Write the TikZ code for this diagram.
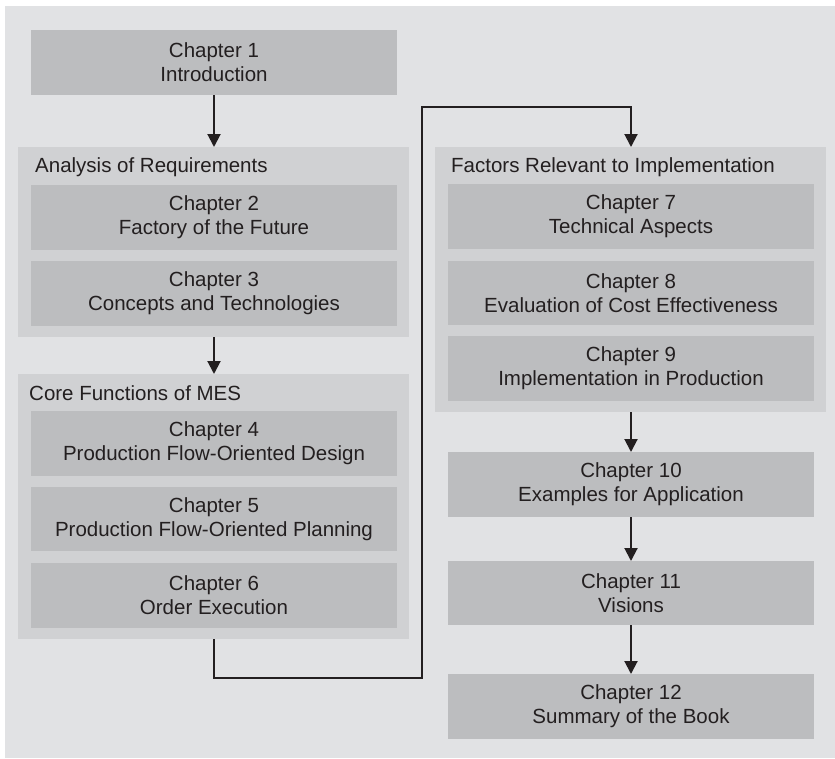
\documentclass[tikz,border=0pt]{standalone}
\usepackage{fontspec}
\setmainfont{Liberation Sans}
\usetikzlibrary{arrows.meta}
\definecolor{pagebg}{HTML}{E1E2E4}
\definecolor{groupbg}{HTML}{D0D1D3}
\definecolor{boxbg}{HTML}{BCBDBF}
\definecolor{ink}{HTML}{231F20}
\begin{document}
\begin{tikzpicture}[x=1pt,y=-1pt,
  every node/.style={font=\fontsize{20.5}{24}\selectfont, text=ink},
  grp/.style={fill=groupbg},
  grptitle/.style={anchor=base west, inner sep=0pt},
  flow/.style={draw=ink, line width=2pt, -{Triangle[width=13pt,length=13pt]}}]
\useasboundingbox (0,0) rectangle (835,758);
\fill[pagebg] (5,6) rectangle (835,758);

% group panels
\fill[grp] (18,147) rectangle (409,337);
\fill[grp] (18,374) rectangle (409,639);
\fill[grp] (435,147) rectangle (826,412);
\coordinate (g1t) at (214,147);
\coordinate (g1b) at (214,337);
\coordinate (g2t) at (214,374);
\coordinate (g2b) at (214,639);
\coordinate (g3t) at (631,147);
\coordinate (g3b) at (631,412);
\node[grptitle] (t1) at (35,172) {Analysis of Requirements};
\node[grptitle] (t2) at (29,400) {Core Functions of MES};
\node[grptitle] (t3) at (451,172) {Factors Relevant to Implementation};

% chapter boxes: name, left, top, right, bottom, text
\newcommand\chap[6]{%
  \fill[boxbg] (#2,#3) rectangle (#4,#5);
  \node[align=center, inner sep=0pt] (#1) at ({(#2+#4)/2},{(#3+#5)/2}) {#6};
  \coordinate (#1t) at ({(#2+#4)/2},#3);
  \coordinate (#1b) at ({(#2+#4)/2},#5);}
% left column
\chap{c1}{31}{30}{397}{95}{Chapter 1\\Introduction}
\chap{c2}{31}{185}{397}{250}{Chapter 2\\Factory of the Future}
\chap{c3}{31}{261}{397}{326}{Chapter 3\\Concepts and Technologies}
\chap{c4}{31}{411}{397}{476}{Chapter 4\\Production Flow-Oriented Design}
\chap{c5}{31}{487}{397}{551}{Chapter 5\\Production Flow-Oriented Planning}
\chap{c6}{31}{563}{397}{628}{Chapter 6\\Order Execution}
% right column
\chap{c7}{448}{184}{814}{249}{Chapter 7\\Technical Aspects}
\chap{c8}{448}{261}{814}{325}{Chapter 8\\Evaluation of Cost Effectiveness}
\chap{c9}{448}{336}{814}{401}{Chapter 9\\Implementation in Production}
\chap{c10}{448}{452}{814}{517}{Chapter 10\\Examples for Application}
\chap{c11}{448}{561}{814}{625}{Chapter 11\\Visions}
\chap{c12}{448}{674}{814}{739}{Chapter 12\\Summary of the Book}

% connectors
\draw[flow] (c1b) -- (g1t);
\draw[flow] (g1b) -- (g2t);
\draw[flow] (g2b) -- (214,678) -- (422,678) -- (422,107) -- (631,107) -- (g3t);
\draw[flow] (g3b) -- (c10t);
\draw[flow] (c10b) -- (c11t);
\draw[flow] (c11b) -- (c12t);
\end{tikzpicture}
\end{document}
